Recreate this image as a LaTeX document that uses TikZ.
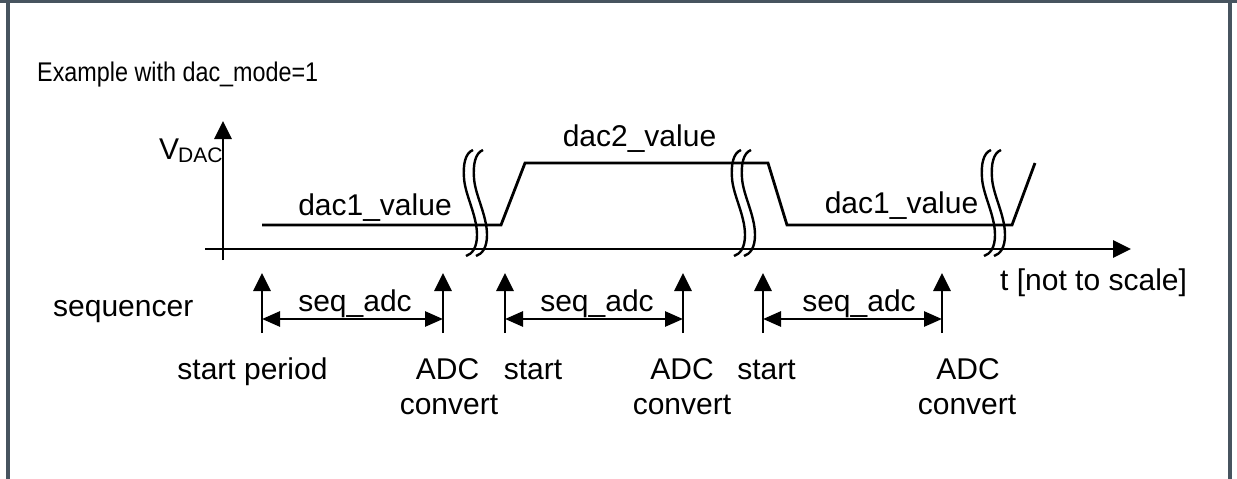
\documentclass[tikz,border=0pt]{standalone}
\usepackage{fontspec}
\setmainfont{Liberation Sans}
\usetikzlibrary{arrows.meta}
\definecolor{framecol}{HTML}{47545F}
\begin{document}
\begin{tikzpicture}[x=1pt,y=-1pt,
  sig/.style={line width=2.8pt, line join=miter},
  brk/.style={line width=2.4pt},
  uparrow/.style={-{Triangle[length=18pt,width=17pt]}, line width=2.8pt},
  dimarrow/.style={{Triangle[length=18pt,width=15pt]}-{Triangle[length=18pt,width=15pt]}, line width=2.8pt},
  lbl/.style={font=\fontsize{30}{34}\selectfont, inner sep=0pt, anchor=base},
  sublbl/.style={font=\fontsize{21}{24}\selectfont, inner sep=0pt, anchor=base west},
  titlelbl/.style={font=\fontsize{27}{32}\selectfont, inner sep=0pt, anchor=base west},
]
\useasboundingbox (0,0) rectangle (1237,479);
% frame
\fill[framecol] (0,0) rectangle (1237,3);
\fill[framecol] (6,0) rectangle (9.5,479);
\fill[framecol] (1228,0) rectangle (1232,479);

% title
\node[titlelbl] (title) at (37,81) {\scalebox{0.865}[1]{Example with dac\_mode=1}};

% axes
\coordinate (vb) at (223,260);
\coordinate (vt) at (223,121);
\coordinate (hl) at (205,249);
\coordinate (hr) at (1131,249);
\draw[uparrow] (vb) -- (vt);
\draw[uparrow] (hl) -- (hr);
\node[lbl, anchor=base west] (vlab) at (159,159) {V};
\node[sublbl] (dacsub) at (178,162) {DAC};
\node[lbl, anchor=base west] (tlab) at (1000,290) {t [not to scale]};

% signal
\coordinate (p0) at (262,225);
\coordinate (p1) at (501,225);
\coordinate (p2) at (525,163);
\coordinate (p3) at (768,163);
\coordinate (p4) at (787,225);
\coordinate (p5) at (1012,225);
\coordinate (p6) at (1035,163);
\draw[sig] (p0) -- (p1) -- (p2) -- (p3) -- (p4) -- (p5) -- (p6);
\node[lbl] (v1) at (375,215) {dac1\_value};
\node[lbl] (v2) at (639.5,146) {dac2\_value};
\node[lbl] (v3) at (901.5,213) {dac1\_value};

% break marks
\foreach \bx in {473,483,741,751,991,1001}{
  \draw[brk, shift={(\bx,0)}] (0,150) .. controls (-8,153) and (-10,165) .. (-9,178)
     .. controls (-8,195) and (4,215) .. (4,235)
     .. controls (4,248) and (-1,254) .. (-7,256);
}

% sequencer
\node[lbl, anchor=base west] (seq) at (53,316) {sequencer};
\foreach \i/\sx in {1/262,2/443,3/505,4/683,5/763,6/942}{
  \coordinate (sb\i) at (\sx,333);
  \coordinate (st\i) at (\sx,273);
  \coordinate (sm\i) at (\sx,319);
  \draw[uparrow] (sb\i) -- (st\i);
}
\draw[dimarrow] (sm1) -- (sm2);
\draw[dimarrow] (sm3) -- (sm4);
\draw[dimarrow] (sm5) -- (sm6);
\node[lbl] (q1) at (355,311) {seq\_adc};
\node[lbl] (q2) at (597,311) {seq\_adc};
\node[lbl] (q3) at (859,311) {seq\_adc};

\node[lbl] (a1) at (252.5,379) {start period};
\node[lbl] (a2) at (447.5,379) {ADC};
\node[lbl] (a3) at (449,414) {convert};
\node[lbl] (a4) at (533,379) {start};
\node[lbl] (a5) at (682,379) {ADC};
\node[lbl] (a6) at (682,414) {convert};
\node[lbl] (a7) at (766.5,379) {start};
\node[lbl] (a8) at (968,379) {ADC};
\node[lbl] (a9) at (967,414) {convert};
\end{tikzpicture}
\end{document}
